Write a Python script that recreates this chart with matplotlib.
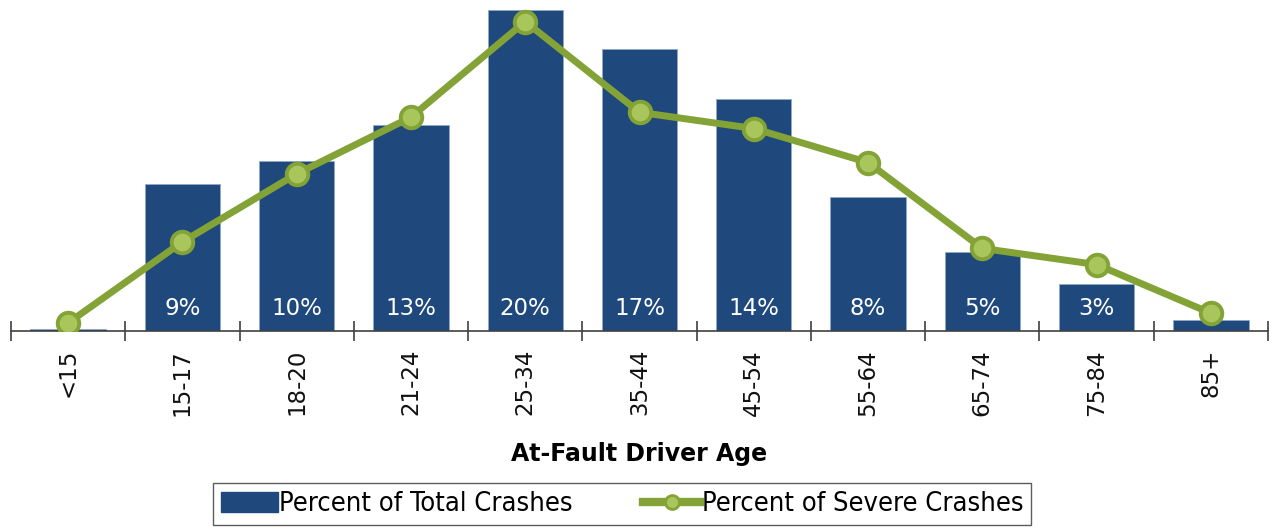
import numpy as np
import matplotlib.pyplot as plt
from matplotlib.lines import Line2D
from matplotlib.patches import Patch

ages = ['<15', '15-17', '18-20', '21-24', '25-34', '35-44', '45-54',
        '55-64', '65-74', '75-84', '85+']
total_pct = [0.1, 9.1, 10.5, 12.7, 19.8, 17.4, 14.3, 8.3, 4.9, 2.9, 0.7]
total_labels = ['', '9%', '10%', '13%', '20%', '17%', '14%', '8%', '5%', '3%', '']
severe_pct = [0.5, 5.5, 9.7, 13.2, 19.1, 13.5, 12.5, 10.4, 5.1, 4.1, 1.1]

bar_color = '#1F497D'
line_color = '#84A337'
marker_face = '#A9C65D'

fig = plt.figure(figsize=(12.75, 5.27), dpi=100)
ax = fig.add_axes([11 / 1275, 196 / 527, 1257 / 1275, 331 / 527])

x = np.arange(len(ages))
ax.bar(x, total_pct, width=0.66, color=bar_color, edgecolor='#8EA9C8',
       linewidth=0.6, zorder=2)
ax.plot(x, severe_pct, color=line_color, linewidth=5, marker='o',
        markersize=15.5, markerfacecolor=marker_face, markeredgecolor=line_color,
        markeredgewidth=2.8, zorder=3)

for xi, lab in zip(x, total_labels):
    if lab:
        ax.text(xi, 1.4, lab, ha='center', va='center', color='white',
                fontsize=16.5, zorder=4)

ax.set_xlim(-0.5, len(ages) - 0.5)
ax.set_ylim(0, 331 / 16.2)

for s in ['top', 'right', 'left']:
    ax.spines[s].set_visible(False)
ax.spines['bottom'].set_color('#404040')
ax.spines['bottom'].set_linewidth(1.2)
ax.set_yticks([])

ax.set_xticks(np.arange(len(ages) + 1) - 0.5)
ax.set_xticklabels([])
ax.tick_params(axis='x', which='major', direction='inout', length=14,
               width=1.2, color='#404040')
ax.set_xticks(x, minor=True)
ax.set_xticklabels(ages, minor=True, rotation=90, fontsize=16.5, color='#111111')
ax.tick_params(axis='x', which='minor', length=0, pad=13)

ax.set_xlabel('At-Fault Driver Age', fontsize=17, fontweight='bold', labelpad=19)

handles = [Patch(facecolor=bar_color, edgecolor=bar_color),
           Line2D([0], [0], color=line_color, linewidth=6, marker='o',
                  markersize=10, markerfacecolor=marker_face,
                  markeredgecolor=line_color, markeredgewidth=2)]
labels = ['Percent of Total Crashes', 'Percent of Severe Crashes']
leg = fig.legend(handles, labels, loc='center', bbox_to_anchor=(0.488, 0.043),
                 ncol=2, frameon=True, fancybox=False, handlelength=2.1,
                 handleheight=0.75, handletextpad=0.05, columnspacing=2.6,
                 borderpad=0.3, borderaxespad=0,
                 prop={'family': 'DejaVu Sans', 'stretch': 'condensed', 'size': 19.5})
leg.get_frame().set_edgecolor('#333333')
leg.get_frame().set_linewidth(1.0)

fig.savefig('out.png', dpi=100)
